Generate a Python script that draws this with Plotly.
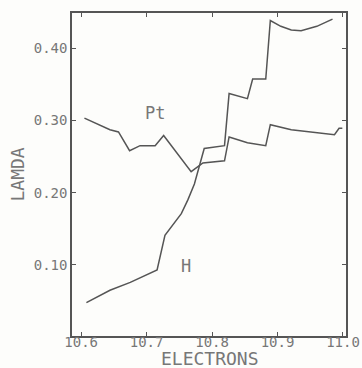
import plotly.graph_objects as go

pt_x = [10.605, 10.644, 10.657, 10.674, 10.690, 10.713, 10.726, 10.768, 10.786,
        10.819, 10.826, 10.854, 10.882, 10.889, 10.921, 10.987, 10.994, 10.999]
pt_y = [0.303, 0.287, 0.284, 0.258, 0.265, 0.265, 0.279, 0.229, 0.241,
        0.244, 0.277, 0.269, 0.265, 0.294, 0.287, 0.280, 0.289, 0.289]

h_x = [10.608, 10.644, 10.675, 10.716, 10.728, 10.741, 10.753, 10.763, 10.773,
       10.788, 10.819, 10.826, 10.854, 10.862, 10.882, 10.889, 10.905, 10.921,
       10.936, 10.960, 10.984]
h_y = [0.048, 0.065, 0.076, 0.093, 0.141, 0.157, 0.171, 0.190, 0.212,
       0.261, 0.265, 0.337, 0.330, 0.357, 0.357, 0.438, 0.430, 0.425,
       0.424, 0.430, 0.440]

x_ticks = [10.6, 10.7, 10.8, 10.9, 11.0]
y_ticks = [0.10, 0.20, 0.30, 0.40]

line_color = "#555555"
text_color = "#777777"
font_family = "DejaVu Sans Mono"

fig = go.Figure()
fig.add_trace(go.Scatter(x=pt_x, y=pt_y, mode="lines",
                         line=dict(color=line_color, width=1.5), showlegend=False))
fig.add_trace(go.Scatter(x=h_x, y=h_y, mode="lines",
                         line=dict(color=line_color, width=1.5), showlegend=False))

fig.add_annotation(x=10.713, y=0.310, text="Pt", showarrow=False,
                   font=dict(family=font_family, size=17, color=text_color))
fig.add_annotation(x=10.760, y=0.099, text="H", showarrow=False,
                   font=dict(family=font_family, size=17, color=text_color))

# axis titles
fig.add_annotation(xref="paper", yref="paper", x=0.504, y=0, yshift=-22,
                   yanchor="middle", xanchor="center", text="ELECTRONS",
                   showarrow=False, borderpad=0,
                   font=dict(family=font_family, size=18, color=text_color))
fig.add_annotation(xref="paper", yref="paper", x=0, y=0.5, xshift=-55,
                   xanchor="center", yanchor="middle", text="LAMDA",
                   textangle=-90, showarrow=False,
                   font=dict(family=font_family, size=18, color=text_color))

fig.update_layout(
    width=362, height=368,
    margin=dict(l=72, r=16, t=13, b=32, autoexpand=False),
    paper_bgcolor="#fdfdfb", plot_bgcolor="#fdfdfb",
    font=dict(family=font_family, color=text_color),
)
fig.update_xaxes(
    range=[10.586, 11.0046], tickvals=x_ticks, tickformat=".1f",
    ticks="inside", ticklen=4, tickcolor=line_color, mirror="ticks",
    showline=True, linecolor=line_color, linewidth=1.5, showgrid=False, zeroline=False,
    tickfont=dict(size=14, color=text_color), automargin=False,
    ticklabelstandoff=-8,
)
fig.update_yaxes(
    range=[0.0018, 0.4484], tickvals=y_ticks, tickformat=".2f",
    ticks="inside", ticklen=4, tickcolor=line_color, mirror="ticks",
    showline=True, linecolor=line_color, linewidth=1.5, showgrid=False, zeroline=False,
    tickfont=dict(size=14, color=text_color), automargin=False,
)

fig.write_html("out.html", config={"displayModeBar": False},
               post_script="document.body.style.margin='0';document.body.style.padding='0';")
